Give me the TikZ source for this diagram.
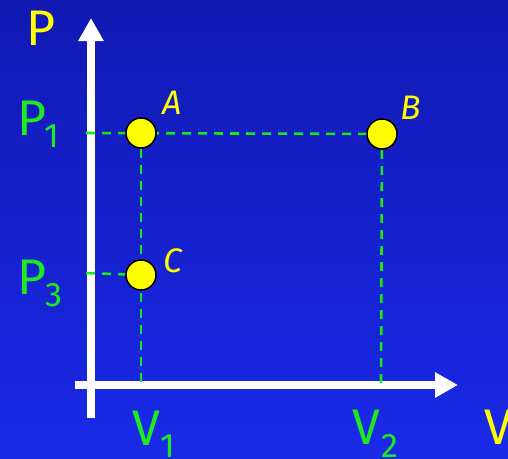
\documentclass[tikz,border=0pt]{standalone}
\usepackage{fontspec}
\setmainfont{Fira Sans}
\usetikzlibrary{arrows.meta}
\definecolor{bgtop}{RGB}{17,24,178}
\definecolor{bgbot}{RGB}{26,42,232}
\definecolor{lgreen}{RGB}{30,235,30}
\definecolor{dgreen}{RGB}{20,235,20}
\definecolor{ptyellow}{RGB}{255,255,0}
\tikzset{
  axis/.style={white, line width=8pt, -{Triangle[length=23pt,width=24pt]}},
  guide/.style={dgreen, line width=2.6pt, dash pattern=on 9pt off 7pt},
  statept/.style={circle, fill=ptyellow, draw=black, line width=1.5pt, minimum size=30pt, inner sep=0pt},
  bigtxt/.style={inner sep=0pt, font=\fontsize{50}{50}\selectfont},
  subtxt/.style={inner sep=0pt, font=\fontsize{34}{34}\selectfont},
  ptlabel/.style={inner sep=0pt, ptyellow, font=\fontsize{34}{34}\selectfont\itshape},
}
\begin{document}
\begin{tikzpicture}[x=1pt,y=-1pt]
\useasboundingbox (0,0) rectangle (508,458);
\shade[top color=bgtop, bottom color=bgbot] (0,0) rectangle (508,458);
% named coordinates
\coordinate (Apos) at (141,133);
\coordinate (Bpos) at (382,134);
\coordinate (Cpos) at (141,275);
\coordinate (yl1) at (86,133);
\coordinate (yl3) at (86,273);
\coordinate (xv1) at (141,385);
\coordinate (xv2) at (381,385);
\coordinate (yb) at (91,418);
\coordinate (yt) at (91,18);
\coordinate (xl) at (75,385);
\coordinate (xr) at (458,385);
% axes
\draw[axis] (yb) -- (yt);
\draw[axis] (xl) -- (xr);
% guides
\draw[guide] (yl1) -- (Bpos);
\draw[guide] (Apos) -- (xv1);
\draw[guide] (Bpos) -- (xv2);
\draw[guide] (yl3) -- (Cpos);
% points
\node[statept] (A) at (Apos) {};
\node[statept] (B) at (Bpos) {};
\node[statept] (C) at (Cpos) {};
\node[ptlabel] (lA) at (172,103) {A};
\node[ptlabel] (lB) at (411,108) {B};
\node[ptlabel] (lC) at (173,261) {C};
% axis labels
\node[bigtxt, ptyellow] (P) at (41,28) {P};
\node[bigtxt, ptyellow] (V) at (498,427) {V};
\node[bigtxt, lgreen] (P1) at (32,118) {P};
\node[subtxt, lgreen] (P1s) at (52,136) {1};
\node[bigtxt, lgreen] (P3) at (32,277) {P};
\node[subtxt, lgreen] (P3s) at (54,295) {3};
\node[bigtxt, lgreen] (V1) at (146,428) {V};
\node[subtxt, lgreen] (V1s) at (168,446) {1};
\node[bigtxt, lgreen] (V2) at (366,427) {V};
\node[subtxt, lgreen] (V2s) at (390,446) {2};
\end{tikzpicture}
\end{document}
